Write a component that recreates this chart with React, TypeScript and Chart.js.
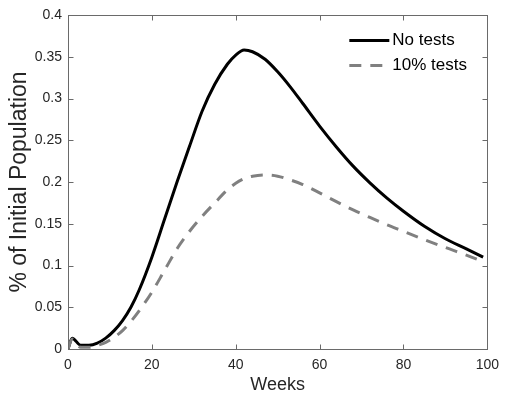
import React, { useEffect, useRef } from "react";
import { Chart, registerables } from "chart.js";

Chart.register(...registerables);

const weeks = [0, 1, 3, 5, 7, 9, 11, 13, 15, 17, 20, 23, 26, 29, 32, 35, 38, 40, 42, 44, 47, 50, 53, 56, 60, 64, 68, 72, 76, 80, 85, 90, 95, 99];
const noTests = [0, 0.013, 0.0045, 0.0045, 0.007, 0.013, 0.022, 0.034, 0.05, 0.071, 0.11, 0.155, 0.2, 0.243, 0.285, 0.317, 0.341, 0.352, 0.358, 0.356, 0.347, 0.332, 0.314, 0.294, 0.267, 0.242, 0.219, 0.199, 0.181, 0.165, 0.147, 0.132, 0.12, 0.11];
const tests10 = [0, 0.012, 0.002, 0.002, 0.0045, 0.008, 0.014, 0.022, 0.033, 0.046, 0.068, 0.094, 0.12, 0.141, 0.159, 0.175, 0.1905, 0.1985, 0.204, 0.207, 0.2085, 0.207, 0.2025, 0.197, 0.187, 0.1765, 0.1665, 0.1575, 0.149, 0.141, 0.131, 0.1215, 0.1125, 0.1045];
const seriesLabels = ["No tests", "10% tests"];
const xTicks = [0, 20, 40, 60, 80, 100];
const yTicks = [0, 0.05, 0.1, 0.15, 0.2, 0.25, 0.3, 0.35, 0.4];
const xTitle = "Weeks";
const yTitle = "% of Initial Population";

const FONT = "'Liberation Sans', Arial, Helvetica, sans-serif";
const AXIS_COLOR = "#6a6a6a";
const TEXT_COLOR = "#262626";

const framePlugin = {
  id: "frame",
  afterDatasetsDraw(chart: any) {
    const { ctx, chartArea: a, scales } = chart;
    const xs = scales.x;
    const ys = scales.y;
    ctx.save();
    ctx.strokeStyle = AXIS_COLOR;
    ctx.lineWidth = 1;
    ctx.setLineDash([]);
    const L = Math.round(a.left) + 0.5;
    const R = Math.round(a.right) + 0.5;
    const T = Math.round(a.top) + 0.5;
    const B = Math.round(a.bottom) + 0.5;
    ctx.beginPath();
    for (const t of xTicks) {
      const px = Math.round(xs.getPixelForValue(t)) + 0.5;
      ctx.moveTo(px, B);
      ctx.lineTo(px, B - 5);
      ctx.moveTo(px, T);
      ctx.lineTo(px, T + 5);
    }
    for (const t of yTicks) {
      const py = Math.round(ys.getPixelForValue(t)) + 0.5;
      ctx.moveTo(L, py);
      ctx.lineTo(L + 5, py);
      ctx.moveTo(R, py);
      ctx.lineTo(R - 5, py);
    }
    ctx.stroke();
    ctx.strokeRect(L, T, R - L, B - T);

    // legend
    const ds = chart.data.datasets;
    ctx.font = `17px ${FONT}`;
    ctx.textBaseline = "middle";
    ctx.textAlign = "left";
    ds.forEach((d: any, i: number) => {
      const y = Math.round(a.top + 25 + i * 25) + 0.5;
      const x0 = a.right - 138;
      const x1 = a.right - 98;
      ctx.strokeStyle = d.borderColor;
      ctx.lineWidth = d.borderWidth;
      ctx.setLineDash(d.borderDash || []);
      ctx.lineCap = "butt";
      ctx.beginPath();
      ctx.moveTo(x0, y);
      ctx.lineTo(x1, y);
      ctx.stroke();
      ctx.setLineDash([]);
      ctx.fillStyle = "#000";
      ctx.fillText(d.label, a.right - 95, y);
    });
    ctx.restore();
  },
};

export default function App() {
  const ref = useRef<HTMLCanvasElement | null>(null);
  useEffect(() => {
    if (!ref.current) return;
    const chart = new Chart(ref.current, {
      type: "line",
      data: {
        datasets: [
          {
            label: seriesLabels[0],
            data: weeks.map((w, i) => ({ x: w, y: noTests[i] })),
            borderColor: "#000000",
            borderWidth: 3,
            pointRadius: 0,
            cubicInterpolationMode: "monotone",
            fill: false,
            order: 1,
          },
          {
            label: seriesLabels[1],
            data: weeks.map((w, i) => ({ x: w, y: tests10[i] })),
            borderColor: "#808080",
            borderWidth: 3,
            borderDash: [12, 9],
            pointRadius: 0,
            cubicInterpolationMode: "monotone",
            fill: false,
            order: 0,
          },
        ],
      },
      options: {
        responsive: false,
        animation: false,
        layout: { padding: { top: 15, right: 14, left: 0, bottom: 0 } },
        plugins: {
          legend: { display: false },
          tooltip: { enabled: false },
        },
        scales: {
          x: {
            type: "linear",
            min: 0,
            max: 100,
            afterFit: (s: any) => {
              s.height = 50;
            },
            afterBuildTicks: (s: any) => {
              s.ticks = xTicks.map((v) => ({ value: v }));
            },
            grid: { display: false, drawTicks: false },
            border: { display: false },
            ticks: {
              padding: 8,
              color: TEXT_COLOR,
              font: { family: FONT, size: 14 },
              maxRotation: 0,
            },
            title: {
              display: true,
              text: xTitle,
              color: TEXT_COLOR,
              font: { family: FONT, size: 18 },
              padding: { top: 0, bottom: 3 },
            },
          },
          y: {
            type: "linear",
            min: 0,
            max: 0.4,
            afterFit: (s: any) => {
              s.width = 68;
            },
            afterBuildTicks: (s: any) => {
              s.ticks = yTicks.map((v) => ({ value: v }));
            },
            grid: { display: false, drawTicks: false },
            border: { display: false },
            ticks: {
              padding: 6,
              color: TEXT_COLOR,
              font: { family: FONT, size: 14 },
              callback: (v: any) => String(Number(Number(v).toFixed(2))),
            },
            title: {
              display: true,
              text: yTitle,
              color: TEXT_COLOR,
              font: { family: FONT, size: 23 },
              padding: { top: 6, bottom: 0 },
            },
          },
        },
      },
      plugins: [framePlugin],
    } as any);
    return () => chart.destroy();
  }, []);
  return (
    <div style={{ position: "absolute", left: 0, top: 0, width: 507, height: 399, background: "#fff" }}>
      <canvas ref={ref} width={507} height={399} style={{ display: "block" }} />
    </div>
  );
}
